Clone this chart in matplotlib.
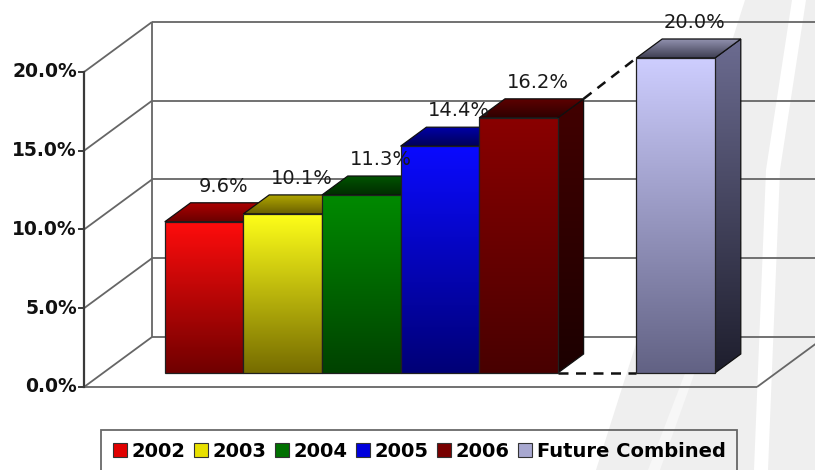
import numpy as np
import matplotlib
matplotlib.use("Agg")
import matplotlib.pyplot as plt
from matplotlib.patches import Polygon, Patch

# ---- data -------------------------------------------------------------
series = ["2002", "2003", "2004", "2005", "2006", "Future Combined"]
values = [9.6, 10.1, 11.3, 14.4, 16.2, 20.0]
slots = [0, 1, 2, 3, 4, 6]            # category slot of each bar (slot 5 left empty)
yticks = [0, 5, 10, 15, 20]
ytick_labels = ["0.0%", "5.0%", "10.0%", "15.0%", "20.0%"]

# face colours (top of gradient, bottom of gradient)
front_cols = [((255, 12, 12), (112, 0, 0)),
              ((255, 255, 25), (118, 108, 0)),
              ((0, 138, 0), (0, 66, 0)),
              ((10, 10, 255), (0, 0, 118)),
              ((138, 0, 0), (72, 0, 0)),
              ((206, 206, 255), (98, 98, 132))]
top_cols = [((175, 0, 0), (105, 0, 0)),
            ((180, 170, 0), (105, 95, 0)),
            ((0, 85, 0), (0, 45, 0)),
            ((0, 0, 170), (0, 0, 90)),
            ((95, 0, 0), (45, 0, 0)),
            ((150, 150, 180), (62, 62, 82))]
side_cols = [((90, 0, 0), (40, 0, 0)),
             ((110, 100, 0), (50, 45, 0)),
             ((0, 60, 0), (0, 30, 0)),
             ((0, 0, 110), (0, 0, 50)),
             ((66, 0, 0), (28, 0, 0)),
             ((108, 108, 145), (30, 30, 45))]
legend_cols = ["#e00000", "#e8e000", "#007000", "#0000dd", "#780000", "#a8a8d0"]

# ---- 3-D frame geometry (in data units) --------------------------------
DX, DY = 0.865, 3.175          # offset of the back wall from the front plane
D0, D1 = 0.28, 0.66            # depth span occupied by the bars
X_FRONT, X_RIGHT = -1.285, 7.277
HALF = 0.5


def P(x, y, d):
    return (x + d * DX, y + d * DY)


fig = plt.figure(figsize=(8.15, 4.7), dpi=100)

# faint watermark behind the plot
bg = fig.add_axes([0, 0, 1, 1])
bg.set_xlim(0, 815)
bg.set_ylim(470, 0)
bg.axis("off")
bg.add_patch(Polygon([(745, 0), (815, 0), (815, 470), (596, 470)],
                     closed=True, facecolor="#efefef", edgecolor="none"))
bg.add_patch(Polygon([(792, 0), (806, 0), (780, 170), (768, 470), (754, 470), (766, 170)],
                     closed=True, facecolor="white", edgecolor="none"))
bg.add_patch(Polygon([(648, 470), (660, 470), (742, 240), (736, 240)],
                     closed=True, facecolor="#f7f7f7", edgecolor="none"))

ax = fig.add_axes([0, 0, 1, 1])
ax.patch.set_alpha(0)
XL, XR = -2.354, 8.015
YB, YT = -5.270, 24.571
ax.axis("off")

grid_kw = dict(color="#666666", lw=1.3, zorder=2, solid_capstyle="butt")

# side wall diagonals and back wall horizontals
for t in yticks:
    a = (X_FRONT, t)
    b = P(X_FRONT, t, 1)
    ax.plot([a[0], b[0]], [a[1], b[1]], **grid_kw)
    ax.plot([b[0], XR + 1], [b[1], b[1]], **grid_kw)
# back wall left edge
b0 = P(X_FRONT, 0, 1)
b1 = P(X_FRONT, 20, 1)
ax.plot([b0[0], b1[0]], [b0[1], b1[1]], **grid_kw)
# floor front edge and right edge
fr = P(X_RIGHT, 0, 1)
ax.plot([X_FRONT, X_RIGHT], [0, 0], **grid_kw)
ax.plot([X_RIGHT, fr[0]], [0, fr[1]], **grid_kw)
# value axis
ax.plot([X_FRONT, X_FRONT], [0, 20], color="#3a3a3a", lw=1.6, zorder=3)
for t, lab in zip(yticks, ytick_labels):
    ax.plot([X_FRONT - 0.065, X_FRONT], [t, t], color="#3a3a3a", lw=1.4, zorder=3)
    ax.text(X_FRONT - 0.09, t, lab, ha="right", va="center",
            fontsize=13.5, fontweight="bold", color="#111111",
            family="DejaVu Sans", zorder=30)


def shade(verts, top_rgb, bot_rgb, z, edge):
    verts = np.asarray(verts)
    poly = Polygon(verts, closed=True, facecolor="none", edgecolor=edge,
                   lw=0.9, zorder=z + 0.1)
    ax.add_patch(poly)
    t = np.linspace(0, 1, 200)[:, None]
    top = np.array(top_rgb, float)
    bot = np.array(bot_rgb, float)
    img = (bot + (top - bot) * t)[:, None, :] / 255.0
    im = ax.imshow(img, extent=(verts[:, 0].min(), verts[:, 0].max(),
                                verts[:, 1].min(), verts[:, 1].max()),
                   origin="lower", aspect="auto", zorder=z,
                   interpolation="bilinear")
    im.set_clip_path(poly)


for i, (s, v) in enumerate(zip(slots, values)):
    x0, x1 = s - HALF, s + HALF
    z = 10 + 3 * i
    side = [P(x1, 0, D0), P(x1, 0, D1), P(x1, v, D1), P(x1, v, D0)]
    top = [P(x0, v, D0), P(x1, v, D0), P(x1, v, D1), P(x0, v, D1)]
    front = [P(x0, 0, D0), P(x1, 0, D0), P(x1, v, D0), P(x0, v, D0)]
    shade(side, *side_cols[i], z, "#101010")
    shade(top, *top_cols[i], z + 1, "#101010")
    shade(front, *front_cols[i], z + 2, "#202020")
    lx, ly = P(s, v, (D0 + D1) / 2)
    ax.text(lx + 0.08, v + D1 * DY + 0.45, f"{v:.1f}%", ha="center", va="bottom",
            fontsize=14, color="#1a1a1a", family="DejaVu Sans", zorder=40)

# series lines linking the last year to the future bar
last, fut = 4, 5
a = P(slots[last] + HALF, values[last], D1)
b = P(slots[fut] - HALF, values[fut], D0)
ax.plot([a[0], b[0]], [a[1], b[1]], color="#111111", lw=1.8,
        ls=(0, (4, 3)), zorder=6)
a = P(slots[last] + HALF, 0, D0)
b = P(slots[fut] - HALF, 0, D0)
ax.plot([a[0], b[0]], [a[1], b[1]], color="#111111", lw=1.8,
        ls=(0, (4, 3)), zorder=6)

ax.set_xlim(XL, XR)
ax.set_ylim(YB, YT)

handles = [Patch(facecolor=c, edgecolor="#333333", lw=0.8) for c in legend_cols]
leg = fig.legend(handles, series, loc="upper left",
                 bbox_to_anchor=(101 / 815, 1 - 430 / 470), ncol=6,
                 prop=dict(family="DejaVu Sans", weight="bold", size=14),
                 handlelength=0.75, handleheight=0.75, handletextpad=0.22,
                 columnspacing=0.42, borderpad=0.6, borderaxespad=0,
                 frameon=True, fancybox=False)
fr_ = leg.get_frame()
fr_.set_facecolor("none")
fr_.set_edgecolor("#444444")
fr_.set_linewidth(1.3)

fig.savefig("out.png", dpi=100, facecolor="white")
